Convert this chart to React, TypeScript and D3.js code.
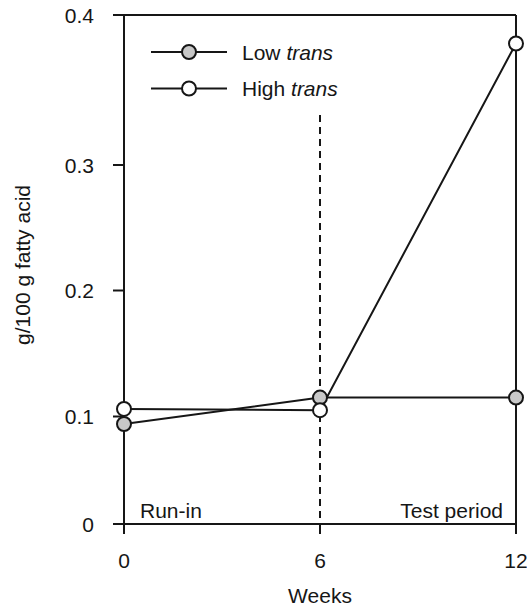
import React from "react";
import * as d3 from "d3";

const weeks = [0, 6, 12];
const lowTrans = [0.093, 0.115, 0.115];
const highTrans = [0.106, 0.105, 0.381];
const yTicks = [0, 0.1, 0.2, 0.3, 0.4];
const xTicks = [0, 6, 12];
const seriesNames = ["Low", "High"];

export default function App() {
  const W = 527, H = 608;
  const x = d3.scaleLinear().domain([0, 12]).range([124, 516]);
  // piecewise to match the reference's uneven axis
  const y = d3.scaleLinear().domain([0, 0.1, 0.2, 0.3, 0.4]).range([524, 416.5, 290.5, 165, 15]);
  const line = d3.line<[number, number]>().x(d => x(d[0])).y(d => y(d[1]));
  const low = weeks.map((w, i) => [w, lowTrans[i]] as [number, number]);
  const high = weeks.map((w, i) => [w, highTrans[i]] as [number, number]);
  const font = "Arial, 'Liberation Sans', sans-serif";
  const fs = 21;
  const r = 7;
  const sw = 2;
  const ink = "#161616";
  return (
    <svg width={W} height={H} style={{ position: "absolute", left: 0, top: 0 }} fontFamily={font}>
      <rect width={W} height={H} fill="#fff" />
      {/* frame */}
      <line x1={124} x2={124} y1={15} y2={534} stroke={ink} strokeWidth={sw} />
      <line x1={113} x2={516} y1={15} y2={15} stroke={ink} strokeWidth={sw} />
      <line x1={516} x2={516} y1={15} y2={534} stroke={ink} strokeWidth={sw} />
      <line x1={113} x2={516} y1={y(0)} y2={y(0)} stroke={ink} strokeWidth={sw} />
      {yTicks.map(t => (
        <g key={t}>
          <line x1={113} x2={124} y1={y(t)} y2={y(t)} stroke={ink} strokeWidth={sw} />
          <text x={94} y={y(t)} dy="0.36em" textAnchor="end" fontSize={fs} fill={ink}>{t === 0 ? "0" : t.toFixed(1)}</text>
        </g>
      ))}
      {xTicks.map(t => (
        <g key={t}>
          <line x1={x(t)} x2={x(t)} y1={y(0)} y2={534} stroke={ink} strokeWidth={sw} />
          <text x={x(t)} y={568} textAnchor="middle" fontSize={fs} fill={ink}>{t}</text>
        </g>
      ))}
      <text x={320} y={603} textAnchor="middle" fontSize={fs} fill={ink}>Weeks</text>
      <text transform="translate(30,265) rotate(-90)" textAnchor="middle" fontSize={fs} fill={ink}>g/100 g fatty acid</text>
      {/* period divider */}
      <line x1={x(6)} x2={x(6)} y1={115} y2={y(0)} stroke={ink} strokeWidth={sw} strokeDasharray="7,5" />
      <text x={140} y={518} fontSize={fs} fill={ink}>Run-in</text>
      <text x={503} y={518} textAnchor="end" fontSize={fs} fill={ink}>Test period</text>
      {/* series */}
      <path d={line(low) || ""} fill="none" stroke={ink} strokeWidth={sw} />
      <path d={line(high) || ""} fill="none" stroke={ink} strokeWidth={sw} />
      {low.map((d, i) => (
        <circle key={"l" + i} cx={x(d[0])} cy={y(d[1])} r={r} fill="#c8c8c8" stroke={ink} strokeWidth={sw} />
      ))}
      {high.map((d, i) => (
        <circle key={"h" + i} cx={x(d[0])} cy={y(d[1])} r={r} fill="#fff" stroke={ink} strokeWidth={sw} />
      ))}
      {/* legend */}
      {seriesNames.map((n, i) => {
        const ly = 52 + i * 36.5;
        return (
          <g key={n}>
            <line x1={151} x2={227} y1={ly} y2={ly} stroke={ink} strokeWidth={sw} />
            <circle cx={189} cy={ly} r={r} fill={i === 0 ? "#c8c8c8" : "#fff"} stroke={ink} strokeWidth={sw} />
            <text x={242} y={ly} dy="0.36em" fontSize={fs} fill={ink}>
              {n} <tspan fontStyle="italic">trans</tspan>
            </text>
          </g>
        );
      })}
    </svg>
  );
}
